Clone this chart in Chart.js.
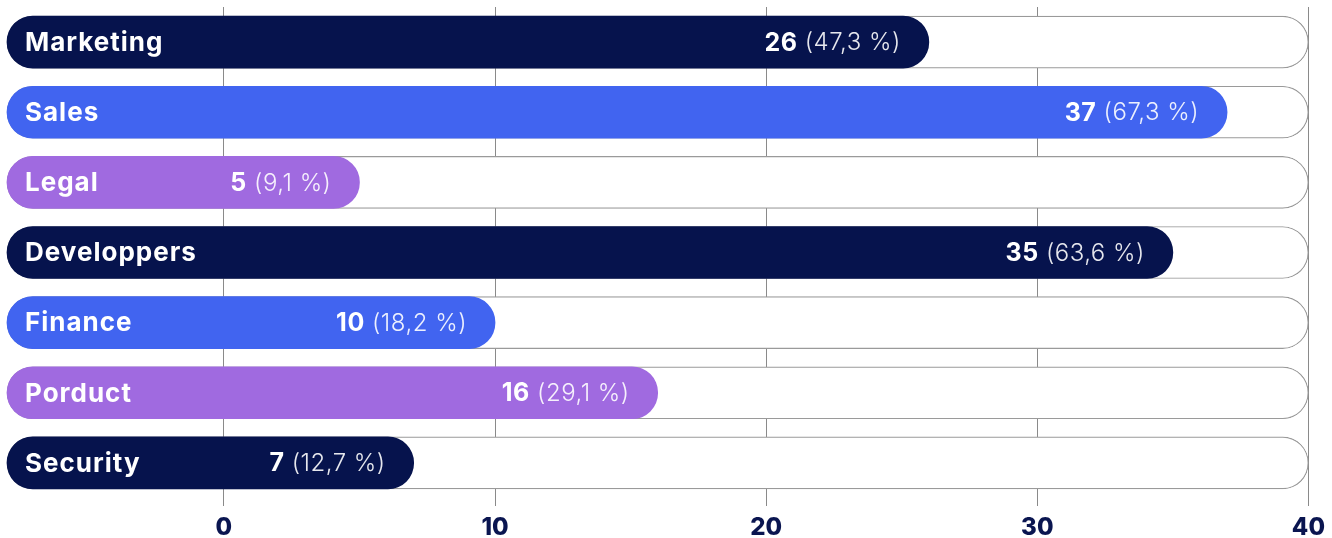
<!DOCTYPE html>
<html>
<head>
<meta charset="utf-8">
<script src="https://cdn.jsdelivr.net/npm/chart.js@4.4.1/dist/chart.umd.min.js"></script>
<style>
  html, body { margin: 0; padding: 0; background: #fff; }
  #wrap { width: 1332px; height: 538px; }
</style>
</head>
<body>
<div id="wrap"><canvas id="teams"></canvas></div>
<script>
var categories = ["Marketing", "Sales", "Legal", "Developpers", "Finance", "Porduct", "Security"];
var counts = [26, 37, 5, 35, 10, 16, 7];
var shares = [47.3, 67.3, 9.1, 63.6, 18.2, 29.1, 12.7];
var tickValues = [0, 10, 20, 30, 40];
var axisMin = -8, axisMax = 40;

var navy = "#06134d", blue = "#4164f0", purple = "#a06ae0";
var barColors = [navy, blue, purple, navy, blue, purple, navy];
var FONT = "Inter, 'Open Sans', sans-serif";

// text drawn on the bars: name on the left, value + share at the bar end
var barText = {
    id: "barText",
    afterDraw: function (chart) {
        var ctx = chart.ctx,
            xs = chart.scales.x,
            ys = chart.scales.y;
        ctx.save();
        ctx.textBaseline = "middle";
        ctx.fillStyle = "#ffffff";
        for (var i = 0; i < categories.length; i++) {
            var y = ys.getPixelForValue(i) + 1,
                left = xs.getPixelForValue(axisMin),
                end = xs.getPixelForValue(counts[i]);

            ctx.textAlign = "left";
            ctx.letterSpacing = "1px";
            ctx.font = "700 26px " + FONT;
            ctx.fillText(categories[i], left + 18, y);

            var num = String(counts[i]),
                pct = " (" + shares[i].toFixed(1).replace(".", ",") + " %)";
            ctx.letterSpacing = "0.5px";
            ctx.font = "300 24px " + FONT;
            var wp = ctx.measureText(pct).width;
            var right = end - 28;
            ctx.globalAlpha = 0.9;
            ctx.fillText(pct, right - wp, y);
            ctx.globalAlpha = 1;
            ctx.font = "700 25px " + FONT;
            var wn = ctx.measureText(num).width;
            ctx.fillText(num, right - wp - wn, y);
        }
        ctx.restore();
    }
};

new Chart(document.getElementById("teams").getContext("2d"), {
    type: "bar",
    data: {
        labels: categories,
        datasets: [
            {
                label: "count",
                data: counts.map(function (v) { return [axisMin, v]; }),
                backgroundColor: barColors,
                borderWidth: 0,
                borderRadius: 26,
                borderSkipped: false,
                barThickness: 52,
                grouped: false,
                clip: false,
                order: 0
            },
            {
                label: "track",
                data: counts.map(function () { return [axisMin, axisMax]; }),
                backgroundColor: "#ffffff",
                borderColor: "#9a9a9a",
                borderWidth: 1.2,
                borderRadius: 26,
                borderSkipped: false,
                barThickness: 52,
                grouped: false,
                clip: false,
                order: 1
            }
        ]
    },
    options: {
        indexAxis: "y",
        responsive: true,
        maintainAspectRatio: false,
        animation: false,
        layout: { padding: { left: 7, right: 20, top: 7, bottom: 0 } },
        plugins: { legend: { display: false }, tooltip: { enabled: false } },
        scales: {
            y: { display: false },
            x: {
                min: axisMin,
                max: axisMax,
                z: 1,
                afterBuildTicks: function (axis) {
                    axis.ticks = tickValues.map(function (v) { return { value: v }; });
                },
                afterFit: function (axis) { axis.height = 40; },
                border: { display: false },
                grid: {
                    color: "#8a8a8a",
                    lineWidth: 1,
                    tickLength: 8,
                    drawOnChartArea: true
                },
                ticks: {
                    color: "#0a1550",
                    padding: 7,
                    maxRotation: 0,
                    font: { family: FONT, size: 24, weight: "800" }
                }
            }
        }
    },
    plugins: [barText]
});
</script>
</body>
</html>
